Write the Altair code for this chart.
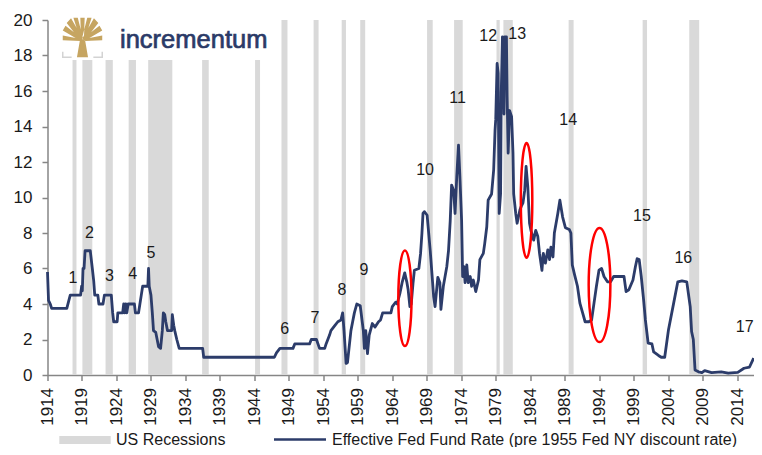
import altair as alt
import pandas as pd

# ---------------- data ----------------
years = [1914.0, 1914.15, 1914.4, 1914.6, 1916.8, 1917.1, 1917.3, 1918.8, 1918.95, 1919.05,
         1919.15, 1919.3, 1919.45, 1920.2, 1920.5, 1920.7, 1920.85, 1921.3, 1921.45, 1922.05,
         1922.25, 1923.25, 1923.45, 1923.6, 1924.1, 1924.2, 1924.9, 1925.05, 1925.2, 1925.35,
         1925.5, 1925.7, 1926.6, 1926.75, 1927.2, 1927.4, 1927.6, 1927.8, 1928.4, 1928.55,
         1928.65, 1928.75, 1929.0, 1929.2, 1929.37, 1929.7, 1929.9, 1930.1, 1930.4, 1930.65,
         1930.8, 1931.0, 1931.15, 1931.4, 1932.0, 1932.1, 1932.3, 1932.45, 1932.75, 1933.1,
         1936.5, 1936.65, 1946.9, 1947.2, 1947.7, 1949.6, 1949.85, 1952.0, 1952.25, 1953.0,
         1953.45, 1954.2, 1954.4, 1954.9, 1955.1, 1955.6, 1956.1, 1956.55, 1956.8, 1957.0,
         1957.3, 1957.5, 1958.0, 1958.25, 1958.5, 1958.85, 1959.35, 1959.8, 1959.95, 1960.15,
         1960.4, 1960.65, 1961.1, 1961.5, 1962.0, 1962.3, 1962.6, 1963.8, 1964.0, 1964.5,
         1964.7, 1965.1, 1965.45, 1965.8, 1966.1, 1966.3, 1966.55, 1966.75, 1967.0, 1967.2,
         1967.85, 1968.1, 1968.3, 1968.45, 1968.65, 1969.05, 1969.3, 1969.5, 1970.0, 1970.2,
         1970.6, 1970.9, 1971.05, 1971.4, 1971.9, 1972.15, 1972.4, 1972.6, 1972.9, 1973.1,
         1973.35, 1973.6, 1973.8, 1974.05, 1974.2, 1974.4, 1974.55, 1974.8, 1975.0, 1975.3,
         1975.5, 1975.75, 1976.1, 1976.5, 1976.7, 1977.2, 1977.4, 1977.7, 1977.9, 1978.4,
         1978.7, 1978.9, 1979.0, 1979.2, 1979.35, 1979.5, 1979.7, 1979.8, 1979.97, 1980.1,
         1980.2, 1980.3, 1980.55, 1980.65, 1980.8, 1981.0, 1981.3, 1981.5, 1981.6, 1981.9,
         1982.1, 1982.5, 1982.7, 1982.95, 1983.2, 1983.4, 1983.65, 1983.9, 1984.1, 1984.5,
         1984.8, 1985.1, 1985.35, 1985.7, 1985.9, 1986.2, 1986.55, 1986.8, 1987.0, 1987.3,
         1987.5, 1988.0, 1988.3, 1988.7, 1989.1, 1989.66, 1989.9, 1990.1, 1990.4, 1990.85,
         1991.2, 1991.6, 1991.96, 1992.5, 1992.9, 1993.25, 1993.6, 1993.97, 1994.35, 1994.7,
         1995.2, 1995.65, 1996.1, 1997.6, 1997.9, 1998.3, 1998.9, 1999.25, 1999.5, 1999.8,
         2000.1, 2000.45, 2000.7, 2001.1, 2001.65, 2001.9, 2002.6, 2003.0, 2003.5, 2004.05,
         2004.8, 2005.4, 2006.0, 2006.7, 2007.2, 2007.4, 2007.65, 2007.9, 2008.4, 2008.9,
         2009.3, 2010.3, 2011.7, 2012.7, 2014.1, 2015.0, 2015.8, 2016.4]
rates = [5.8, 4.2, 4.0, 3.75, 3.75, 4.2, 4.5, 4.5, 5.0, 4.75,
         6.0, 6.0, 7.0, 7.0, 6.0, 5.3, 4.5, 4.5, 4.0, 4.0,
         4.5, 4.5, 3.5, 3.0, 3.0, 3.5, 3.5, 4.0, 3.5, 4.0,
         3.5, 4.0, 4.0, 3.5, 3.5, 4.0, 4.5, 5.0, 5.0, 5.0,
         6.0, 5.0, 4.5, 3.5, 2.5, 2.4, 2.0, 1.6, 1.5, 2.5,
         3.5, 3.4, 3.0, 2.5, 2.5, 3.4, 2.8, 2.5, 2.0, 1.5,
         1.5, 1.0, 1.0, 1.25, 1.5, 1.5, 1.75, 1.75, 2.0, 2.0,
         1.5, 1.5, 1.75, 2.25, 2.5, 2.75, 3.0, 3.1, 3.5, 2.5,
         0.65, 0.7, 2.5, 3.0, 3.5, 4.0, 3.9, 2.5, 1.5, 2.5,
         1.2, 2.25, 2.9, 2.7, 3.0, 3.1, 3.5, 3.5, 3.85, 4.1,
         4.0, 4.6, 5.25, 5.75, 5.25, 4.8, 3.85, 4.0, 5.15, 5.9,
         6.0, 6.85, 8.0, 9.1, 9.2, 9.0, 7.9, 7.0, 4.4, 3.85,
         5.5, 5.2, 3.7, 5.0, 6.1, 7.0, 8.7, 10.7, 10.4, 9.1,
         11.2, 12.95, 11.2, 8.7, 5.55, 6.1, 5.2, 6.2, 5.2, 5.55,
         5.0, 5.35, 4.7, 5.35, 6.5, 6.85, 7.4, 8.35, 9.85, 10.2,
         11.55, 13.8, 14.4, 17.55, 17.0, 9.1, 10.2, 15.9, 19.05, 19.0,
         14.7, 19.05, 19.05, 15.7, 12.5, 14.9, 14.55, 12.5, 10.2, 9.1,
         8.55, 9.3, 9.5, 9.7, 10.4, 11.75, 10.6, 8.55, 8.15, 7.6,
         8.15, 7.8, 6.85, 5.9, 6.85, 6.3, 7.05, 6.5, 7.2, 6.65,
         8.0, 9.1, 9.85, 8.9, 8.3, 8.2, 8.0, 6.2, 5.7, 5.0,
         4.05, 3.5, 3.0, 3.0, 3.1, 4.05, 5.0, 5.9, 6.0, 5.55,
         5.25, 5.25, 5.55, 5.55, 4.7, 4.8, 5.35, 6.1, 6.55, 6.5,
         5.55, 4.2, 3.1, 1.8, 1.75, 1.3, 1.1, 1.0, 1.0, 2.55,
         4.05, 5.25, 5.3, 5.25, 3.85, 2.45, 2.0, 0.28, 0.18, 0.13,
         0.25, 0.13, 0.18, 0.1, 0.15, 0.38, 0.45, 0.95]

rec_start = [1917.63, 1919.06, 1922.42, 1925.77, 1928.6, 1936.42, 1944.1, 1947.93, 1952.59,
             1956.66, 1959.35, 1969.04, 1972.96, 1979.11, 1980.11, 1989.57, 2000.3, 2007.06]
rec_end = [1918.2, 1920.5, 1923.47, 1926.83, 1932.1, 1937.38, 1944.82, 1948.8, 1953.31,
           1957.28, 1960.07, 1969.86, 1974.21, 1979.58, 1981.47, 1990.29, 2000.94, 2008.5]

label_text = [str(i) for i in range(1, 18)]
label_year = [1917.7, 1920.1, 1923.0, 1926.35, 1929.0, 1948.4, 1952.8, 1956.7, 1959.9,
              1968.75, 1973.45, 1977.9, 1982.1, 1989.5, 2000.2, 2006.2, 2015.1]
label_val = [5.45, 7.98, 5.58, 5.69, 6.85, 2.57, 3.19, 4.79, 5.9,
             11.55, 15.6, 19.1, 19.2, 14.37, 8.96, 6.57, 2.72]

ell_year = [1965.83, 1983.47, 1994.05]
ell_val = [4.32, 9.84, 5.07]
ell_halfheight_px = [47.8, 57.4, 57.1]
ell_ratio = [0.138, 0.10, 0.19]

x_ticks = list(range(1914, 2015, 5))
y_ticks = list(range(0, 21, 2))

# ---------------- styling ----------------
FONT = "Liberation Sans, Arial, sans-serif"
NAVY = "#2C3C6A"
GREY = "#D9D9D9"
AXIS = "#868686"
TXT = "#1a1a1a"

line_df = pd.DataFrame({"year": years, "rate": rates})
rec_df = pd.DataFrame({"start": rec_start, "end": rec_end,
                       "lo": [0] * len(rec_start), "hi": [20] * len(rec_start)})
lab_df = pd.DataFrame({"t": label_text, "year": label_year, "val": label_val})

xscale = alt.Scale(domain=[1914, 2016.45], nice=False, zero=False)
yscale = alt.Scale(domain=[0, 20], nice=False, zero=False)

xaxis = alt.Axis(values=x_ticks, format="d", labelAngle=270, title=None, grid=False,
                 labelFont=FONT, labelFontSize=17, labelColor=TXT, labelPadding=7,
                 domainColor=AXIS, domainWidth=1.5, tickColor=AXIS, tickWidth=1.5,
                 tickSize=5.5, labelOverlap=False, labelFlush=False)
yaxis = alt.Axis(values=y_ticks, title=None, grid=False,
                 labelFont=FONT, labelFontSize=17, labelColor=TXT, labelPadding=10,
                 domainColor=AXIS, domainWidth=1.5, tickColor=AXIS, tickWidth=1.5,
                 tickSize=5.5, labelOverlap=False)


def X(field):
    return alt.X(field, scale=xscale, axis=xaxis)


def Y(field):
    return alt.Y(field, scale=yscale, axis=yaxis)


bars = alt.Chart(rec_df).mark_rect(color=GREY).encode(
    x=X("start:Q"), x2="end:Q", y=Y("lo:Q"), y2="hi:Q")

one = pd.DataFrame({"a": [0]})

# logo block (white backing, tree icon, word mark)
logo_bg = alt.Chart(one).mark_rect(color="white").encode(
    x=alt.value(14.5), x2=alt.value(224.5), y=alt.value(-6), y2=alt.value(40))


def tree_path():
    parts = ["M -0.28 1 L -0.12 0.08 L 0.12 0.08 L 0.28 1 Z"]
    tips = [((-1.0, 0.14), (-1.0, -0.1)), ((-1.0, -0.36), (-0.86, -0.6)),
            ((-0.8, -0.74), (-0.58, -0.98)), ((-0.46, -1.0), (-0.24, -1.0))]
    for (a, b) in tips:
        parts.append(f"M -0.09 0.18 L {a[0]} {a[1]} L {b[0]} {b[1]} L 0.04 0.1 Z")
        parts.append(f"M 0.09 0.18 L {-a[0]} {a[1]} L {-b[0]} {b[1]} L -0.04 0.1 Z")
    parts.append("M -0.07 0.12 L -0.11 -1.0 L 0.11 -1.0 L 0.07 0.12 Z")
    return " ".join(parts)


tree = alt.Chart(one).mark_point(shape=tree_path(), size=1560, filled=True,
                                 color="#C6A561", opacity=1, strokeWidth=0).encode(
    x=alt.value(35), y=alt.value(17.5))
bracket = alt.Chart(one).mark_point(
    shape="M -1 0.72 L -1 1 L -0.55 1 M 0.55 1 L 1 1 L 1 0.72", size=1560,
    filled=False, color="#D3D3D3", opacity=1, strokeWidth=1.5).encode(
    x=alt.value(35), y=alt.value(17.5))
wordmark = alt.Chart(one).mark_text(
    text="incrementum", font=FONT, fontSize=25.5, color="#2B3A67", align="left",
    baseline="alphabetic", stroke="#2B3A67", strokeWidth=0.7).encode(
    x=alt.value(72.5), y=alt.value(28))

line = alt.Chart(line_df).mark_line(color=NAVY, strokeWidth=2.8, strokeJoin="round").encode(
    x=X("year:Q"), y=Y("rate:Q"))


def ellipse_path(r):
    k = 0.5523
    return (f"M 0 -1 C {k*r:.4f} -1 {r:.4f} {-k:.4f} {r:.4f} 0 "
            f"C {r:.4f} {k:.4f} {k*r:.4f} 1 0 1 "
            f"C {-k*r:.4f} 1 {-r:.4f} {k:.4f} {-r:.4f} 0 "
            f"C {-r:.4f} {-k:.4f} {-k*r:.4f} -1 0 -1 Z")


ellipses = []
for yr, v, hh, r in zip(ell_year, ell_val, ell_halfheight_px, ell_ratio):
    d = pd.DataFrame({"year": [yr], "val": [v]})
    ellipses.append(
        alt.Chart(d).mark_point(shape=ellipse_path(r), size=(2 * hh) ** 2, filled=False,
                                stroke="#FF0000", strokeWidth=2.5, opacity=1).encode(
            x=X("year:Q"), y=Y("val:Q")))

labels = alt.Chart(lab_df).mark_text(font=FONT, fontSize=16, color=TXT,
                                     align="center", baseline="middle").encode(
    x=X("year:Q"), y=Y("val:Q"), text="t:N")

# legend (bottom)
LEG_Y = 420
leg_rect = alt.Chart(one).mark_rect(color=GREY).encode(
    x=alt.value(11.8), x2=alt.value(63.2), y=alt.value(LEG_Y - 4), y2=alt.value(LEG_Y + 4))
leg_rect_txt = alt.Chart(one).mark_text(
    text="US Recessions", font=FONT, fontSize=16, color=TXT, align="left",
    baseline="middle").encode(x=alt.value(68.5), y=alt.value(LEG_Y))
leg_line = alt.Chart(one).mark_rule(color=NAVY, strokeWidth=2.5).encode(
    x=alt.value(226.5), x2=alt.value(278.5), y=alt.value(LEG_Y - 0.5))
leg_line_txt = alt.Chart(one).mark_text(
    text="Effective Fed Fund Rate (pre 1955 Fed NY discount rate)", font=FONT,
    fontSize=16, color=TXT, align="left", baseline="middle").encode(
    x=alt.value(284.5), y=alt.value(LEG_Y))

chart = alt.layer(
    bars, logo_bg, tree, bracket, wordmark, line, *ellipses, labels,
    leg_rect, leg_rect_txt, leg_line, leg_line_txt,
).properties(
    width=706.5, height=355,
    padding={"left": 39.5, "top": 12, "right": 0, "bottom": 72},
    autosize=alt.AutoSizeParams(type="none"),
).configure_view(stroke="transparent")

chart.save("out.html", embed_options={"renderer": "svg", "actions": False})
